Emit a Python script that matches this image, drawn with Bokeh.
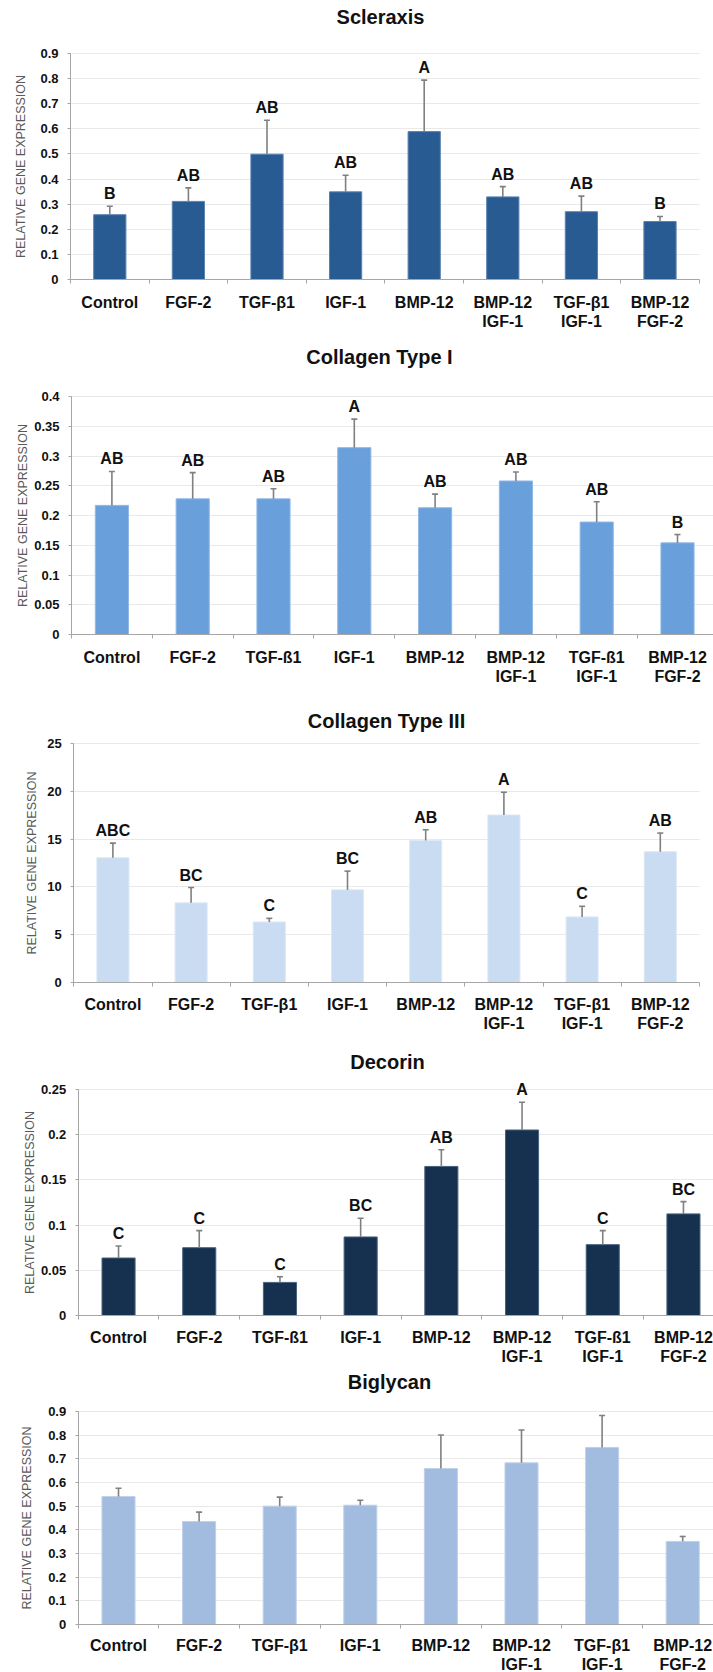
import math
from bokeh.plotting import figure
from bokeh.models import (Range1d, FixedTicker, NumeralTickFormatter, CustomJSTickFormatter,
                          Label, LabelSet, ColumnDataSource)
from bokeh.layouts import column
from bokeh.embed import file_html
from bokeh.resources import INLINE
from bokeh.core.properties import value

# ---------------- data ----------------
labels_beta = ["Control", "FGF-2", "TGF-β1", "IGF-1", "BMP-12",
               "BMP-12\nIGF-1", "TGF-β1\nIGF-1", "BMP-12\nFGF-2"]
labels_ss = ["Control", "FGF-2", "TGF-ß1", "IGF-1", "BMP-12",
             "BMP-12\nIGF-1", "TGF-ß1\nIGF-1", "BMP-12\nFGF-2"]
y_title = "RELATIVE GENE EXPRESSION"

scleraxis_mean = [0.258, 0.311, 0.499, 0.349, 0.589, 0.329, 0.270, 0.231]
scleraxis_err = [0.034, 0.054, 0.135, 0.066, 0.205, 0.041, 0.062, 0.020]
scleraxis_letters = ["B", "AB", "AB", "AB", "A", "AB", "AB", "B"]
scleraxis_yticks = [0, 0.1, 0.2, 0.3, 0.4, 0.5, 0.6, 0.7, 0.8, 0.9]

col1_mean = [0.217, 0.228, 0.228, 0.314, 0.213, 0.258, 0.189, 0.154]
col1_err = [0.057, 0.044, 0.017, 0.048, 0.023, 0.015, 0.034, 0.014]
col1_letters = ["AB", "AB", "AB", "A", "AB", "AB", "AB", "B"]
col1_yticks = [0, 0.05, 0.1, 0.15, 0.2, 0.25, 0.3, 0.35, 0.4]

col3_mean = [13.05, 8.33, 6.33, 9.69, 14.86, 17.52, 6.86, 13.68]
col3_err = [1.53, 1.60, 0.38, 1.96, 1.12, 2.38, 1.11, 1.95]
col3_letters = ["ABC", "BC", "C", "BC", "AB", "A", "C", "AB"]
col3_yticks = [0, 5, 10, 15, 20, 25]

decorin_mean = [0.0636, 0.075, 0.0366, 0.0869, 0.1649, 0.2052, 0.0784, 0.1124]
decorin_err = [0.0133, 0.0189, 0.0063, 0.0207, 0.0185, 0.0307, 0.0155, 0.0136]
decorin_letters = ["C", "C", "C", "BC", "AB", "A", "C", "BC"]
decorin_yticks = [0, 0.05, 0.1, 0.15, 0.2, 0.25]

biglycan_mean = [0.541, 0.435, 0.500, 0.504, 0.659, 0.683, 0.748, 0.351]
biglycan_err = [0.035, 0.040, 0.038, 0.021, 0.142, 0.139, 0.135, 0.021]
biglycan_letters = ["", "", "", "", "", "", "", ""]
biglycan_yticks = [0, 0.1, 0.2, 0.3, 0.4, 0.5, 0.6, 0.7, 0.8, 0.9]

FONT = "Liberation Sans"
AXIS_GRAY = "#a6a6a6"
ERR_GRAY = "#808080"
TXT = "#111111"
W = 713


def make_chart(title, means, errs, letters, labels, color, edge, yticks, fmt,
               H, y_top, y_zero, axis_x, sp, title_x, title_dy, ytitle_x, cat_standoff):
    n = len(labels)
    centers = [i + 0.5 for i in range(n)]
    bounds = [i for i in range(n + 1)]
    tops = [m + e for m, e in zip(means, errs)]
    ymin, ymax = yticks[0], yticks[-1]

    # ranges chosen so that the frame fills the whole canvas
    k = (y_zero - y_top) / (ymax - ymin)
    y_start = ymin - (H - y_zero) / k
    y_end = ymax + y_top / k
    x_start = -axis_x / sp
    x_end = (W - axis_x) / sp

    p = figure(width=W, height=H, output_backend="svg", toolbar_location=None,
               x_range=Range1d(x_start, x_end), y_range=Range1d(y_start, y_end),
               min_border_left=0, min_border_right=0, min_border_top=0, min_border_bottom=0)
    p.outline_line_color = None
    p.background_fill_color = "white"
    p.border_fill_color = "white"

    # x axis (category axis, drawn at y = 0)
    xa = p.xaxis[0]
    xa.fixed_location = ymin
    xa.bounds = (0, n)
    xa.ticker = FixedTicker(ticks=centers, minor_ticks=bounds)
    xa.formatter = CustomJSTickFormatter(args=dict(labels=labels),
                                         code="return labels[Math.floor(tick)]")
    xa.major_tick_out = 0
    xa.major_tick_in = 0
    xa.minor_tick_out = 4
    xa.minor_tick_in = 0
    xa.minor_tick_line_color = AXIS_GRAY
    xa.axis_line_color = AXIS_GRAY
    xa.major_label_standoff = cat_standoff
    xa.major_label_text_font = FONT
    xa.major_label_text_font_size = "16px"
    xa.major_label_text_font_style = "bold"
    xa.major_label_text_color = TXT
    xa.major_label_text_line_height = 1.15
    p.xgrid.visible = False

    # y axis (drawn at x = 0)
    ya = p.yaxis[0]
    ya.fixed_location = 0
    ya.bounds = (ymin, ymax)
    ya.ticker = FixedTicker(ticks=yticks)
    ya.formatter = NumeralTickFormatter(format=fmt)
    ya.major_tick_out = 3
    ya.major_tick_in = 0
    ya.minor_tick_out = 0
    ya.minor_tick_in = 0
    ya.major_tick_line_color = AXIS_GRAY
    ya.axis_line_color = AXIS_GRAY
    ya.major_label_standoff = 9
    ya.major_label_text_font = FONT
    ya.major_label_text_font_size = "13px"
    ya.major_label_text_font_style = "bold"
    ya.major_label_text_color = TXT
    p.ygrid.grid_line_color = "#e9e9e9"
    p.ygrid.grid_line_width = 1
    p.ygrid.bounds = (ymin, ymax)
    p.ygrid.cross_bounds = (0, n)

    p.vbar(x=centers, top=means, bottom=0, width=0.41, fill_color=color,
           line_color=edge, line_width=1)
    p.segment(x0=centers, y0=means, x1=centers, y1=tops, line_color=ERR_GRAY, line_width=1.6)
    p.scatter(x=centers, y=tops, marker="dash", size=6, line_color=ERR_GRAY, line_width=1.6)

    # significance letters
    src_let = ColumnDataSource(dict(x=centers, y=tops, t=letters))
    p.add_layout(LabelSet(x="x", y="y", text="t", source=src_let, y_offset=7,
                          text_align="center", text_baseline="alphabetic",
                          text_font=value(FONT), text_font_size=value("16px"),
                          text_font_style="bold", text_color=TXT))

    # chart title
    p.add_layout(Label(x=(title_x - axis_x) / sp, y=ymax, y_offset=title_dy, text=title,
                       text_align="center", text_baseline="middle", text_font=FONT,
                       text_font_size="20px", text_font_style="bold", text_color=TXT))

    # y axis title
    p.add_layout(Label(x=0, y=(ymin + ymax) / 2, x_offset=ytitle_x - axis_x, text=y_title,
                       angle=math.pi / 2, text_align="center", text_baseline="middle",
                       text_font=FONT, text_font_size="12.5px", text_color="#595959"))
    return p


p1 = make_chart("Scleraxis", scleraxis_mean, scleraxis_err, scleraxis_letters, labels_beta,
                "#295b93", "#5a82b0", scleraxis_yticks, "0.[0]",
                338, 53, 279, 70.0, 78.6, 380, 37, 20.7, 10)
p2 = make_chart("Collagen Type I", col1_mean, col1_err, col1_letters, labels_ss,
                "#699fdb", "#8fb8e6", col1_yticks, "0.[00]",
                354, 58, 296, 71.0, 80.8, 379, 40, 22.7, 10)
p3 = make_chart("Collagen Type III", col3_mean, col3_err, col3_letters, labels_beta,
                "#c9dcf1", "#dde8f6", col3_yticks, "0",
                346, 51, 290, 73.3, 78.2, 386, 23, 31.7, 9)
p4 = make_chart("Decorin", decorin_mean, decorin_err, decorin_letters, labels_ss,
                "#16304f", "#4a6280", decorin_yticks, "0.[00]",
                330, 51, 277, 77.7, 80.7, 387, 28, 29.3, 9)
p5 = make_chart("Biglycan", biglycan_mean, biglycan_err, biglycan_letters, labels_beta,
                "#a1bcdf", "#bfd1ea", biglycan_yticks, "0.[0]",
                304, 43, 256, 77.7, 80.6, 389, 30, 26.7, 8)

layout = column(p1, p2, p3, p4, p5, spacing=0)
open("out.html", "w").write(file_html(layout, INLINE))
